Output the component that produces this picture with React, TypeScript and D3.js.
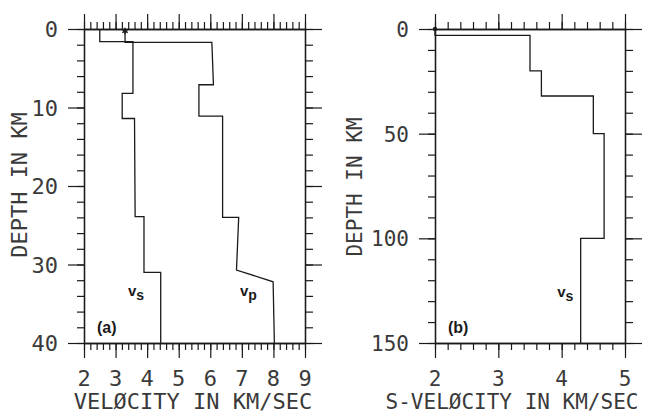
import React, { useEffect, useRef } from 'react';
import * as d3 from 'd3';

// panel (a): crustal model, velocity vs depth
const vsVelA = [2.5, 2.5, 3.55, 3.55, 3.21, 3.21, 3.6, 3.62, 3.9, 3.9, 4.43, 4.43];
const vsDepA = [0, 1.6, 1.6, 8.2, 8.2, 11.4, 11.4, 23.9, 23.9, 31.0, 31.0, 40];
const vpVelA = [3.3, 3.3, 6.05, 6.1, 5.64, 5.64, 6.39, 6.39, 6.9, 6.83, 7.99, 8.03];
const vpDepA = [0, 1.7, 1.7, 7.1, 7.1, 11.1, 11.1, 24.0, 24.0, 30.7, 32.2, 40];

// panel (b): upper mantle S model
const vsVelB = [2.0, 2.0, 3.5, 3.5, 3.68, 3.68, 4.5, 4.5, 4.67, 4.67, 4.3, 4.3];
const vsDepB = [0, 3, 3, 20, 20, 32, 32, 50, 50, 100, 100, 150];

const xTicksA = [2, 3, 4, 5, 6, 7, 8, 9];
const yTicksA = [0, 10, 20, 30, 40];
const xTicksB = [2, 3, 4, 5];
const yTicksB = [0, 50, 100, 150];

const INK = '#1a1a1a';
const MONO = '"DejaVu Sans Mono", monospace';

type PanelCfg = {
  x0: number; x1: number; y0: number; y1: number;
  xDom: [number, number]; yDom: [number, number];
  xTicks: number[]; yTicks: number[];
  xMinorStep: number; yMinorStep: number;
  xTitle: string; xTitleX: number; yTitleX: number; yTitleY: number;
  fontSize: number; tag: string;
};

// plotter-style lettering
function mono(sel: d3.Selection<SVGTextElement, any, any, any>, size: number) {
  return sel.attr('font-family', MONO).attr('font-size', size).attr('fill', '#3a3a3a');
}

function drawPanel(svg: d3.Selection<SVGSVGElement, unknown, null, undefined>, c: PanelCfg) {
  const x = d3.scaleLinear().domain(c.xDom).range([c.x0, c.x1]);
  const y = d3.scaleLinear().domain(c.yDom).range([c.y0, c.y1]);
  const g = svg.append('g');

  const xMinor = d3.range(c.xDom[0], c.xDom[1] + 1e-9, c.xMinorStep).map(v => +v.toFixed(3));
  const yMinor = d3.range(c.yDom[0], c.yDom[1] + 1e-9, c.yMinorStep).map(v => +v.toFixed(3));

  const style = (sel: d3.Selection<SVGGElement, unknown, null, undefined>) => {
    sel.selectAll('text').remove();
    sel.select('.domain').attr('stroke', INK).attr('stroke-width', 1.3);
    sel.selectAll('.tick line').attr('stroke', INK).attr('stroke-width', 1.2);
  };

  // top ticks (outward = up)
  g.append('g').attr('transform', `translate(0,${c.y0})`)
    .call(d3.axisTop(x).tickValues(xMinor).tickSize(7).tickSizeOuter(0)).call(style);
  g.append('g').attr('transform', `translate(0,${c.y0})`)
    .call(d3.axisTop(x).tickValues(c.xTicks).tickSize(15).tickSizeOuter(0)).call(style);
  // bottom ticks
  g.append('g').attr('transform', `translate(0,${c.y1})`)
    .call(d3.axisBottom(x).tickValues(xMinor).tickSize(7).tickSizeOuter(0)).call(style);
  g.append('g').attr('transform', `translate(0,${c.y1})`)
    .call(d3.axisBottom(x).tickValues(c.xTicks).tickSize(15).tickSizeOuter(0)).call(style);
  // left ticks
  g.append('g').attr('transform', `translate(${c.x0},0)`)
    .call(d3.axisLeft(y).tickValues(yMinor).tickSize(7).tickSizeOuter(0)).call(style);
  g.append('g').attr('transform', `translate(${c.x0},0)`)
    .call(d3.axisLeft(y).tickValues(c.yTicks).tickSize(16).tickSizeOuter(0)).call(style);
  // right ticks
  g.append('g').attr('transform', `translate(${c.x1},0)`)
    .call(d3.axisRight(y).tickValues(yMinor).tickSize(8).tickSizeOuter(0)).call(style);
  g.append('g').attr('transform', `translate(${c.x1},0)`)
    .call(d3.axisRight(y).tickValues(c.yTicks).tickSize(17).tickSizeOuter(0)).call(style);

  // tick labels
  g.selectAll('.xl').data(c.xTicks).enter().append('text')
    .attr('x', d => x(d)).attr('y', c.y1 + 43)
    .attr('text-anchor', 'middle').call(mono, c.fontSize).text(d => d);
  g.selectAll('.yl').data(c.yTicks).enter().append('text')
    .attr('x', c.x0 - 26).attr('y', d => y(d) + 8)
    .attr('text-anchor', 'end').call(mono, c.fontSize).text(d => d);

  // axis titles
  g.append('text').attr('x', c.xTitleX).attr('y', c.y1 + 66)
    .attr('text-anchor', 'middle').call(mono, c.fontSize).text(c.xTitle);
  g.append('text').attr('transform', `translate(${c.yTitleX},${c.yTitleY}) rotate(-90)`)
    .attr('text-anchor', 'middle').call(mono, c.fontSize).text('DEPTH IN KM');

  // panel tag
  g.append('text').attr('x', x(c.xDom[0]) + 13).attr('y', c.y1 - 10)
    .attr('font-family', 'Liberation Sans, Arial, sans-serif').attr('font-weight', 'bold')
    .attr('font-size', 16).attr('fill', INK).text(c.tag);

  return { g, x, y };
}

const App = () => {
  const ref = useRef<SVGSVGElement>(null);

  useEffect(() => {
    const svg = d3.select(ref.current!);
    svg.selectAll('*').remove();

    const line = (xs: d3.ScaleLinear<number, number>, ys: d3.ScaleLinear<number, number>) =>
      d3.line<[number, number]>().x(d => xs(d[0])).y(d => ys(d[1]));

    const addV = (g: d3.Selection<SVGGElement, unknown, null, undefined>, px: number, py: number, sub: string) => {
      const t = g.append('text').attr('x', px).attr('y', py)
        .attr('font-family', 'Liberation Sans, Arial, sans-serif').attr('font-weight', 'bold')
        .attr('font-size', 15).attr('fill', INK);
      t.append('tspan').text('v');
      t.append('tspan').attr('dy', 4).attr('font-size', 14).text(sub);
    };

    // Panel (a)
    const a = drawPanel(svg, {
      x0: 84, x1: 305, y0: 29, y1: 343,
      xDom: [2, 9], yDom: [0, 40],
      xTicks: xTicksA, yTicks: yTicksA,
      xMinorStep: 0.2, yMinorStep: 2,
      xTitle: 'VELØCITY IN KM/SEC', xTitleX: 193, yTitleX: 27, yTitleY: 185,
      fontSize: 22, tag: '(a)',
    });
    const la = line(a.x, a.y);
    a.g.append('path').datum(d3.zip(vsVelA, vsDepA) as [number, number][])
      .attr('d', la).attr('fill', 'none').attr('stroke', INK).attr('stroke-width', 1.3);
    a.g.append('path').datum(d3.zip(vpVelA, vpDepA) as [number, number][])
      .attr('d', la).attr('fill', 'none').attr('stroke', INK).attr('stroke-width', 1.3);
    a.g.append('path').attr('d', d3.symbol(d3.symbolAsterisk, 28)())
      .attr('transform', `translate(${a.x(vpVelA[0])},${a.y(0) + 2})`)
      .attr('stroke', INK).attr('stroke-width', 1.5).attr('fill', 'none');
    addV(a.g, a.x(3.39), a.y(34.0), 's');
    addV(a.g, a.x(6.94), a.y(34.0), 'p');

    // Panel (b)
    const b = drawPanel(svg, {
      x0: 435, x1: 625, y0: 29, y1: 343,
      xDom: [2, 5], yDom: [0, 150],
      xTicks: xTicksB, yTicks: yTicksB,
      xMinorStep: 0.2, yMinorStep: 10,
      xTitle: 'S-VELØCITY IN KM/SEC', xTitleX: 512, yTitleX: 362, yTitleY: 187,
      fontSize: 21, tag: '(b)',
    });
    b.g.append('path').datum(d3.zip(vsVelB, vsDepB) as [number, number][])
      .attr('d', line(b.x, b.y)).attr('fill', 'none').attr('stroke', INK).attr('stroke-width', 1.3);
    b.g.append('circle').attr('cx', b.x(vsVelB[0])).attr('cy', b.y(0)).attr('r', 2.2).attr('fill', INK);
    addV(b.g, b.x(3.93), b.y(128), 's');
  }, []);

  return (
    <div style={{ position: 'absolute', left: 0, top: 0 }}>
      <svg ref={ref} width={650} height={413} style={{ display: 'block', background: '#fff' }} />
    </div>
  );
};

export default App;
